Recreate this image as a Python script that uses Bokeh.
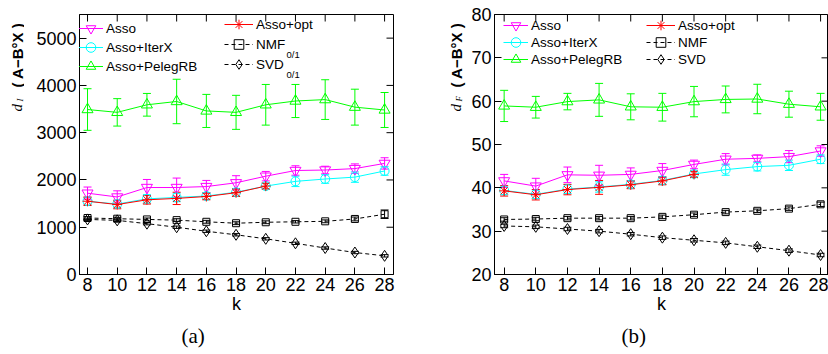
import math
from bokeh.plotting import figure
from bokeh.models import (ColumnDataSource, Whisker, TeeHead, FixedTicker,
                          Range1d, Legend, LegendItem, Label, Title)
from bokeh.layouts import row
from bokeh.embed import file_html
from bokeh.resources import INLINE

# ---------------- data ----------------
k = [8, 10, 12, 14, 16, 18, 20, 22, 24, 26, 28]
k_opt = [8, 10, 12, 14, 16, 18, 20]
x_ticks = [8, 10, 12, 14, 16, 18, 20, 22, 24, 26, 28]
y_ticks_a = [0, 1000, 2000, 3000, 4000, 5000]
y_ticks_b = [20, 30, 40, 50, 60, 70, 80]

# (a) d_I
asso_a = [1720, 1640, 1840, 1840, 1860, 1940, 2080, 2200, 2210, 2240, 2350]
asso_a_err = [130, 130, 170, 200, 130, 150, 100, 100, 80, 100, 120]
iterx_a = [1550, 1490, 1600, 1630, 1660, 1740, 1870, 1970, 2020, 2060, 2190]
iterx_a_err = [80, 80, 90, 90, 70, 80, 60, 110, 90, 110, 90]
peleg_a = [3490, 3430, 3590, 3660, 3460, 3430, 3590, 3670, 3700, 3540, 3480]
peleg_a_err = [440, 290, 240, 470, 350, 360, 430, 350, 420, 380, 370]
opt_a = [1550, 1480, 1580, 1610, 1650, 1730, 1870]
opt_a_err = [90, 90, 90, 130, 70, 80, 60]
nmf_a = [1195, 1180, 1165, 1150, 1115, 1085, 1105, 1115, 1125, 1175, 1275]
nmf_a_err = [30, 30, 30, 30, 30, 30, 30, 25, 30, 40, 90]
svd_a = [1165, 1145, 1075, 1000, 915, 840, 755, 660, 560, 465, 395]
svd_a_err = [25, 25, 25, 25, 25, 25, 25, 25, 25, 25, 25]

# (b) d_F
asso_b = [41.6, 40.4, 43.0, 42.9, 43.1, 44.0, 45.4, 46.6, 46.8, 47.2, 48.5]
asso_b_err = [1.5, 1.8, 1.8, 2.3, 1.5, 1.6, 1.0, 1.3, 0.8, 1.4, 1.2]
iterx_b = [39.4, 38.5, 39.7, 40.2, 40.8, 41.7, 43.2, 44.2, 44.9, 45.2, 46.6]
iterx_b_err = [1.0, 1.0, 1.0, 1.2, 0.8, 0.9, 0.7, 1.3, 1.0, 1.2, 1.0]
peleg_b = [58.9, 58.6, 59.9, 60.3, 58.7, 58.6, 59.9, 60.4, 60.5, 59.3, 58.7]
peleg_b_err = [3.6, 2.5, 1.9, 3.8, 3.0, 3.2, 3.5, 3.1, 3.4, 3.0, 3.1]
opt_b = [39.3, 38.4, 39.6, 40.1, 40.7, 41.6, 43.1]
opt_b_err = [1.2, 1.2, 1.2, 1.6, 0.9, 0.9, 0.7]
nmf_b = [32.7, 32.8, 33.0, 33.0, 33.0, 33.3, 33.8, 34.4, 34.7, 35.2, 36.2]
nmf_b_err = [0.4, 0.4, 0.4, 0.4, 0.4, 0.4, 0.4, 0.4, 0.4, 0.4, 0.5]
svd_b = [31.2, 31.0, 30.5, 30.0, 29.3, 28.5, 27.9, 27.3, 26.4, 25.5, 24.5]
svd_b_err = [0.4, 0.4, 0.4, 0.4, 0.4, 0.4, 0.4, 0.4, 0.4, 0.4, 0.4]

labels_a = ["Asso", "Asso+IterX", "Asso+PelegRB", "Asso+opt", "NMF", "SVD"]
labels_b = ["Asso", "Asso+IterX", "Asso+PelegRB", "Asso+opt", "NMF", "SVD"]

SANS = "Liberation Sans"
SERIF = "Liberation Serif"
H = 354
TOP = 14
BOTTOM = 80
FRAME_H = H - TOP - BOTTOM
FRAME_BOTTOM = H - BOTTOM
TICK = 7
LEG_SHIFT = 11   # row centre = frame bottom - legend location y - LEG_SHIFT


def style_axis(ax, ticks):
    ax.ticker = FixedTicker(ticks=ticks)
    ax.major_tick_in = TICK
    ax.major_tick_out = 0
    ax.minor_tick_line_color = None
    ax.axis_line_color = "black"
    ax.major_tick_line_color = "black"
    ax.major_label_text_font = SANS
    ax.major_label_text_color = "black"
    ax.major_label_text_font_size = "18px"
    ax.major_label_standoff = 3


def add_series(p, x, y, err, color, marker, size, dash):
    src = ColumnDataSource(dict(x=x, y=y,
                                lo=[a - e for a, e in zip(y, err)],
                                hi=[a + e for a, e in zip(y, err)]))
    w = Whisker(source=src, base="x", lower="lo", upper="hi", line_color=color, line_width=1,
                upper_head=TeeHead(size=8, line_color=color, line_width=1),
                lower_head=TeeHead(size=8, line_color=color, line_width=1))
    p.add_layout(w)
    l = p.line("x", "y", source=src, line_color=color, line_width=1, line_dash=dash)
    s = p.scatter("x", "y", source=src, marker=marker, size=size, line_color=color,
                  fill_color=None, line_width=1)
    return [l, s]


def label_fig(width, base_x, sym):
    f = figure(width=width, height=H, x_range=Range1d(0, width), y_range=Range1d(0, H),
               output_backend="svg", toolbar_location=None,
               x_axis_location=None, y_axis_location=None,
               min_border=0, min_border_left=0, min_border_right=0,
               min_border_top=0, min_border_bottom=0)
    f.grid.visible = False
    f.outline_line_color = None
    f.background_fill_color = "white"
    f.border_fill_color = "white"
    f.add_layout(Label(x=base_x, y=163, x_units="screen", y_units="screen", text="d",
                       angle=math.pi / 2, text_font=SERIF, text_font_style="italic",
                       text_font_size="15px", text_color="black",
                       text_align="left", text_baseline="alphabetic"))
    f.add_layout(Label(x=base_x + 3, y=173, x_units="screen", y_units="screen", text=sym,
                       angle=math.pi / 2, text_font=SERIF, text_font_style="italic",
                       text_font_size="9px", text_color="black",
                       text_align="left", text_baseline="alphabetic"))
    f.add_layout(Label(x=base_x, y=187, x_units="screen", y_units="screen",
                       text="( A\u2212B\u00b0X )",
                       angle=math.pi / 2, text_font=SANS, text_font_style="bold",
                       text_font_size="15px", text_color="black",
                       text_align="left", text_baseline="alphabetic"))
    return f


def make_panel(width, left, right, xr, yr, yticks, data, labels, legpos, sub, caption, cap_off):
    p = figure(width=width, height=H, x_range=Range1d(*xr), y_range=Range1d(*yr),
               output_backend="svg", toolbar_location=None,
               min_border_left=left, min_border_right=right,
               min_border_top=TOP, min_border_bottom=BOTTOM)
    frame_w = width - left - right
    p.grid.visible = False
    p.outline_line_color = "black"
    p.background_fill_color = "white"
    p.border_fill_color = "white"

    style_axis(p.xaxis[0], x_ticks)
    style_axis(p.yaxis[0], yticks)
    p.xaxis[0].axis_label = "k"
    p.xaxis[0].axis_label_text_font = SANS
    p.xaxis[0].axis_label_text_font_style = "normal"
    p.xaxis[0].axis_label_text_font_size = "18px"
    p.xaxis[0].axis_label_standoff = 0
    p.xaxis[0].axis_label_text_color = "black"

    # inward ticks on the top and right edges of the box
    p.extra_y_ranges = {"px": Range1d(0, FRAME_H)}
    p.extra_x_ranges = {"px": Range1d(0, frame_w)}
    p.segment(x0=x_ticks, x1=x_ticks, y0=[FRAME_H - TICK] * len(x_ticks),
              y1=[FRAME_H] * len(x_ticks), y_range_name="px", line_color="black", line_width=1)
    p.segment(x0=[frame_w - TICK] * len(yticks), x1=[frame_w] * len(yticks),
              y0=yticks, y1=yticks, x_range_name="px", line_color="black", line_width=1)

    (asso, asso_e, iterx, iterx_e, peleg, peleg_e, opt, opt_e, nmf, nmf_e, svd, svd_e) = data
    r_asso = add_series(p, k, asso, asso_e, "#ff00ff", "inverted_triangle", 11, "solid")
    r_iter = add_series(p, k, iterx, iterx_e, "#00ffff", "circle", 9, "solid")
    r_peleg = add_series(p, k, peleg, peleg_e, "#00ff00", "triangle", 11, "solid")
    r_nmf = add_series(p, k, nmf, nmf_e, "black", "square", 7, "4 3")
    r_svd = add_series(p, k, svd, svd_e, "black", "diamond", 11, "4 3")
    r_opt = add_series(p, k_opt, opt, opt_e, "#ff0000", "asterisk", 10, "solid")

    rends = [r_asso, r_iter, r_peleg, r_opt, r_nmf, r_svd]
    for lab, rr, (lx, cy, gw) in zip(labels, rends, legpos):
        leg = Legend(items=[LegendItem(label=lab, renderers=rr)],
                     location=(lx, FRAME_BOTTOM - cy - LEG_SHIFT),
                     border_line_color=None, background_fill_alpha=0, margin=0, padding=4,
                     label_standoff=3, label_text_font=SANS, label_text_font_size="13.5px",
                     label_text_color="black", spacing=0, glyph_width=gw,
                     glyph_height=24, label_height=24)
        p.add_layout(leg)

    for (txt, sx, cy) in sub:
        p.add_layout(Label(x=sx, y=FRAME_BOTTOM - cy, x_units="screen", y_units="screen",
                           text=txt, text_font=SANS, text_font_size="9.5px", text_color="black",
                           text_align="left", text_baseline="alphabetic"))

    p.add_layout(Title(text=caption, align="left", offset=cap_off, standoff=11,
                       text_font=SERIF, text_font_size="21px", text_font_style="normal",
                       text_color="black"), "below")
    return p


lab_a = label_fig(24, 16.5, "I")
p1 = make_panel(386, 55, 17, (7.46, 28.6), (0, 5500), y_ticks_a,
                (asso_a, asso_a_err, iterx_a, iterx_a_err, peleg_a, peleg_a_err,
                 opt_a, opt_a_err, nmf_a, nmf_a_err, svd_a, svd_a_err),
                labels_a,
                [(-1, 29.3, 25), (-1, 48.3, 25), (-1, 67.3, 25),
                 (145, 25.3, 29), (145, 45.3, 29), (145, 65.3, 29)],
                [("0/1", 207, 53.5), ("0/1", 207, 73.5)],
                "(a)", 102)

lab_b = label_fig(56, 45.5, "F")
p2 = make_panel(362, 28, 0, (7.39, 28.5), (20, 80), y_ticks_b,
                (asso_b, asso_b_err, iterx_b, iterx_b_err, peleg_b, peleg_b_err,
                 opt_b, opt_b_err, nmf_b, nmf_b_err, svd_b, svd_b_err),
                labels_b,
                [(9, 26, 25), (9, 43, 25), (9, 60, 25),
                 (152, 26, 29), (152, 43, 29), (152, 60, 29)],
                [],
                "(b)", 127)

layout = row(lab_a, p1, lab_b, p2)
open("out.html", "w").write(file_html(layout, INLINE))
